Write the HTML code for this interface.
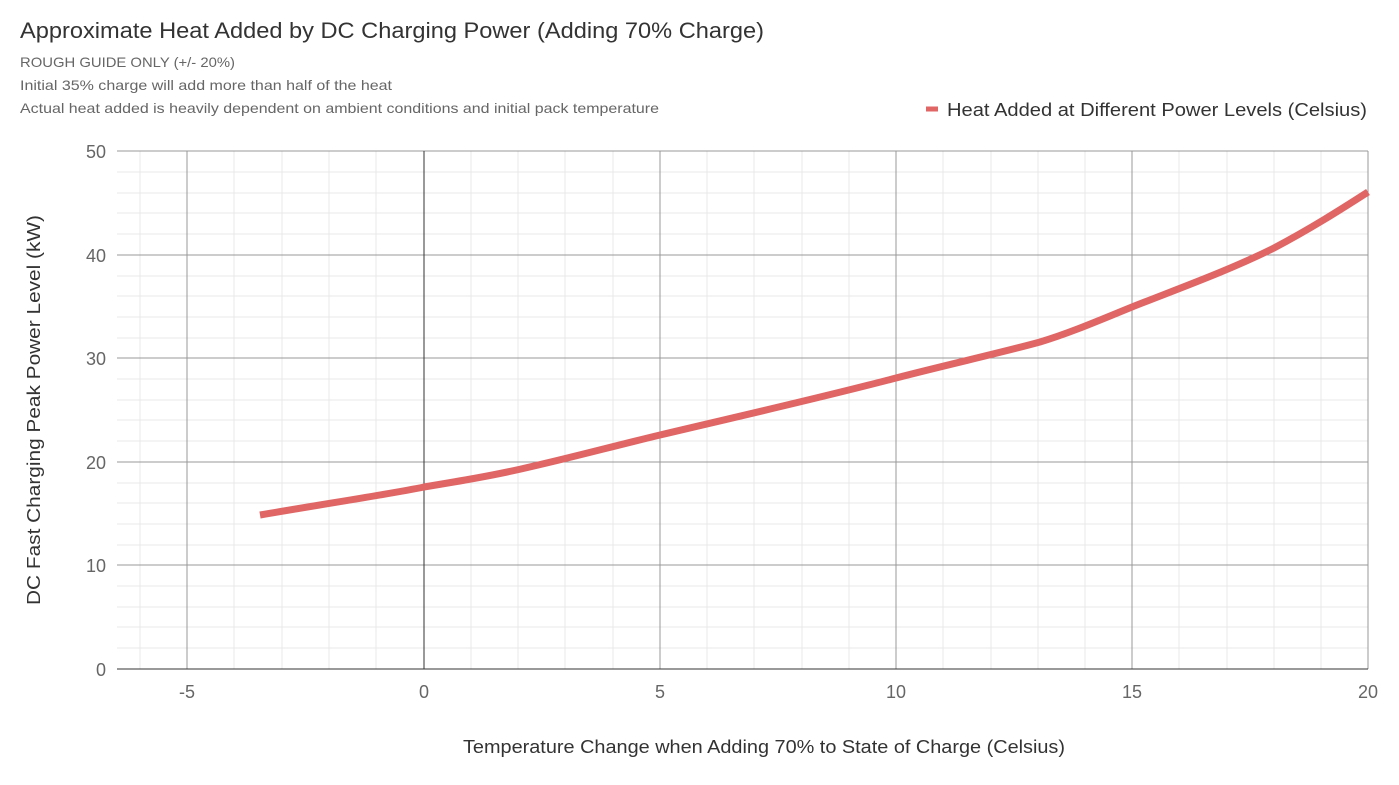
<!DOCTYPE html>
<html><head><meta charset="utf-8"><style>
html,body{margin:0;padding:0;background:#fff;}
svg{display:block;font-family:"Liberation Sans",Arial,sans-serif;}
</style></head><body>
<svg width="1399" height="785" viewBox="0 0 1399 785">
<rect width="1399" height="785" fill="#fff"/>
<text x="20" y="38" font-size="22" fill="#333" textLength="744" lengthAdjust="spacingAndGlyphs">Approximate Heat Added by DC Charging Power (Adding 70% Charge)</text>
<text x="20" y="67" font-size="14" fill="#666" textLength="215" lengthAdjust="spacingAndGlyphs">ROUGH GUIDE ONLY (+/- 20%)</text>
<text x="20" y="90" font-size="14" fill="#666" textLength="372" lengthAdjust="spacingAndGlyphs">Initial 35% charge will add more than half of the heat</text>
<text x="20" y="113" font-size="14" fill="#666" textLength="639" lengthAdjust="spacingAndGlyphs">Actual heat added is heavily dependent on ambient conditions and initial pack temperature</text>
<line x1="926" y1="109" x2="938" y2="109" stroke="#e06666" stroke-width="5"/>
<text x="947" y="116" font-size="18" fill="#333" textLength="420" lengthAdjust="spacingAndGlyphs">Heat Added at Different Power Levels (Celsius)</text>
<g stroke="#e8e8e8" stroke-width="1">
<line x1="140" y1="151" x2="140" y2="669"/><line x1="234" y1="151" x2="234" y2="669"/><line x1="282" y1="151" x2="282" y2="669"/><line x1="329" y1="151" x2="329" y2="669"/><line x1="376" y1="151" x2="376" y2="669"/>
<line x1="471" y1="151" x2="471" y2="669"/><line x1="518" y1="151" x2="518" y2="669"/><line x1="565" y1="151" x2="565" y2="669"/><line x1="613" y1="151" x2="613" y2="669"/>
<line x1="707" y1="151" x2="707" y2="669"/><line x1="754" y1="151" x2="754" y2="669"/><line x1="802" y1="151" x2="802" y2="669"/><line x1="849" y1="151" x2="849" y2="669"/>
<line x1="943" y1="151" x2="943" y2="669"/><line x1="991" y1="151" x2="991" y2="669"/><line x1="1038" y1="151" x2="1038" y2="669"/><line x1="1085" y1="151" x2="1085" y2="669"/>
<line x1="1179" y1="151" x2="1179" y2="669"/><line x1="1227" y1="151" x2="1227" y2="669"/><line x1="1274" y1="151" x2="1274" y2="669"/><line x1="1321" y1="151" x2="1321" y2="669"/>
<line x1="117" y1="172" x2="1368" y2="172"/><line x1="117" y1="193" x2="1368" y2="193"/><line x1="117" y1="213" x2="1368" y2="213"/><line x1="117" y1="234" x2="1368" y2="234"/>
<line x1="117" y1="276" x2="1368" y2="276"/><line x1="117" y1="296" x2="1368" y2="296"/><line x1="117" y1="317" x2="1368" y2="317"/><line x1="117" y1="338" x2="1368" y2="338"/>
<line x1="117" y1="379" x2="1368" y2="379"/><line x1="117" y1="400" x2="1368" y2="400"/><line x1="117" y1="420" x2="1368" y2="420"/><line x1="117" y1="441" x2="1368" y2="441"/>
<line x1="117" y1="483" x2="1368" y2="483"/><line x1="117" y1="503" x2="1368" y2="503"/><line x1="117" y1="524" x2="1368" y2="524"/><line x1="117" y1="545" x2="1368" y2="545"/>
<line x1="117" y1="586" x2="1368" y2="586"/><line x1="117" y1="607" x2="1368" y2="607"/><line x1="117" y1="627" x2="1368" y2="627"/><line x1="117" y1="648" x2="1368" y2="648"/>
</g>
<g stroke="#999" stroke-width="1">
<line x1="187" y1="151" x2="187" y2="669"/><line x1="660" y1="151" x2="660" y2="669"/><line x1="896" y1="151" x2="896" y2="669"/><line x1="1132" y1="151" x2="1132" y2="669"/><line x1="1368" y1="151" x2="1368" y2="669"/>
<line x1="117" y1="151" x2="1368" y2="151"/><line x1="117" y1="255" x2="1368" y2="255"/><line x1="117" y1="358" x2="1368" y2="358"/><line x1="117" y1="462" x2="1368" y2="462"/><line x1="117" y1="565" x2="1368" y2="565"/>
</g>
<line x1="424" y1="151" x2="424" y2="669" stroke="#333" stroke-width="1"/>
<line x1="117" y1="669" x2="1368" y2="669" stroke="#333" stroke-width="1"/>
<path d="M260,515 C330,503 390,494 424,487 C460,481 490,476 521,469 C570,458 610,447 660,435 C740,416 820,398 896,378 C950,364 1000,353 1040,342 C1070,333 1100,320 1132,307 C1180,288 1230,270 1274,248 C1310,229 1340,210 1368,192" fill="none" stroke="#e06666" stroke-width="7" stroke-linecap="butt"/>
<g font-size="18" fill="#666" text-anchor="end">
<text x="106" y="158">50</text><text x="106" y="262">40</text><text x="106" y="365">30</text><text x="106" y="469">20</text><text x="106" y="572">10</text><text x="106" y="676">0</text>
</g>
<g font-size="18" fill="#666" text-anchor="middle">
<text x="187" y="698">-5</text><text x="424" y="698">0</text><text x="660" y="698">5</text><text x="896" y="698">10</text><text x="1132" y="698">15</text><text x="1368" y="698">20</text>
</g>
<text x="463" y="753" font-size="18" fill="#333" textLength="602" lengthAdjust="spacingAndGlyphs">Temperature Change when Adding 70% to State of Charge (Celsius)</text>
<text transform="translate(40,605) rotate(-90)" font-size="18" fill="#333" textLength="390" lengthAdjust="spacingAndGlyphs">DC Fast Charging Peak Power Level (kW)</text>
</svg>
</body></html>
